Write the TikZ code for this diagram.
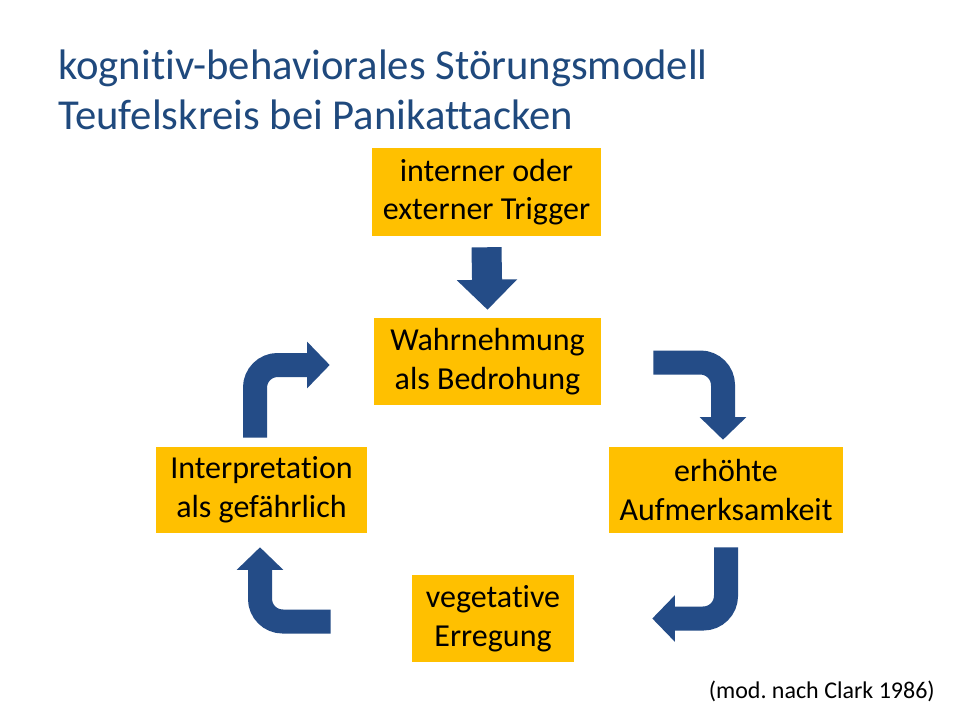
\documentclass[tikz,border=0pt]{standalone}
\usepackage{fontspec}
\setmainfont{Carlito}[Ligatures=CommonOff]
\frenchspacing
\usetikzlibrary{positioning,calc,arrows.meta}
\definecolor{titleblue}{RGB}{31,73,125}
\definecolor{arrowblue}{RGB}{36,76,135}
\definecolor{boxorange}{RGB}{255,192,0}
\tikzset{
  box/.style={fill=boxorange,inner sep=0pt,align=center,font=\fontsize{24}{29}\selectfont},
  bigarrow/.style={draw=arrowblue,line width=22.5pt,
    -{Triangle[width=44pt,length=22.5pt]}},
  bentarrow/.style={draw=arrowblue,line width=18pt,rounded corners=17pt,
    -{Triangle[width=34pt,length=17pt]}}
}
\begin{document}
\begin{tikzpicture}[x=0.75pt,y=-0.75pt]
\useasboundingbox[fill=white] (0,0) rectangle (960,720);

% title
\node[anchor=base west,inner sep=0pt,text=titleblue,font=\fontsize{32}{38}\selectfont]
  (title1) at (58,80) {kognitiv-behaviorales Störungsmodell};
\node[anchor=base west,inner sep=0pt,text=titleblue,font=\fontsize{32}{38}\selectfont]
  (title2) at ($(title1.base west)+(0,50)$) {Teufelskreis bei Panikattacken};

% boxes
\node[box,minimum width=229*0.75pt,minimum height=88*0.75pt] (trig) at (486.5,192)
  {interner oder\\externer Trigger};
\node[box,minimum width=227*0.75pt,minimum height=87*0.75pt] (wahr) at (487.5,361.5)
  {Wahrnehmung\\als Bedrohung};
\node[box,minimum width=234*0.75pt,minimum height=86*0.75pt] (erh) at (726,490)
  {erhöhte\\Aufmerksamkeit};
\node[box,minimum width=162*0.75pt,minimum height=87*0.75pt] (veg) at (493,618.5)
  {vegetative\\Erregung};
\node[box,minimum width=211*0.75pt,minimum height=86*0.75pt] (interp) at (261.5,490)
  {Interpretation\\als gefährlich};

% arrows
\draw[bigarrow] ($(trig.south)+(0,11)$) -- ($(wahr.north)+(0,-8)$);
\draw[bentarrow] ($(wahr.east)+(52,1)$) -| ($(erh.north)+(-3,-7)$);
\draw[bentarrow] ($(erh.south)+(0,14)$) |- ($(veg.east)+(78,0)$);
\draw[bentarrow] ($(veg.west)+(-81,3)$) -| ($(interp.south)+(-1.5,14)$);
\draw[bentarrow] ($(interp.north)+(-6.5,-9)$) |- ($(wahr.west)+(-44,3.5)$);

% source
\node[anchor=base east,inner sep=0pt,font=\fontsize{18}{22}\selectfont]
  (src) at (935,698) {(mod. nach Clark 1986)};
\end{tikzpicture}
\end{document}
